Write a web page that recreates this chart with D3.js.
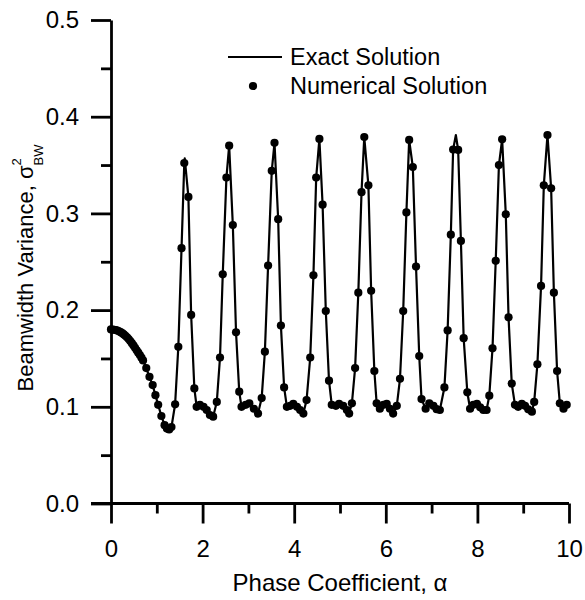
<!DOCTYPE html>
<html><head><meta charset="utf-8">
<script src="https://cdn.jsdelivr.net/npm/d3@7"></script>
<style>
body{margin:0;background:#fff}
text{font-family:"Liberation Sans",Arial,Helvetica,sans-serif;fill:#000}
</style>
</head><body>
<svg id="chart" width="585" height="600"></svg>
<script>
// Numerical solution samples (alpha, sigma^2_BW)
const alphaNum = [0.000,0.035,0.070,0.105,0.140,0.175,0.210,0.245,0.280,0.315,0.350,0.385,0.420,0.455,0.490,0.525,0.560,0.595,0.630,0.665,0.700,
0.77,0.84,0.91,0.97,1.03,1.10,1.17,1.22,1.27,1.32,
1.40,1.47,1.54,1.60,1.69,1.75,1.82,1.87,1.94,2.02,2.09,2.16,2.23,2.31,2.38,2.44,2.52,2.58,2.66,2.73,2.80,2.85,2.94,3.02,
3.12,3.21,3.29,3.36,3.43,3.51,3.57,3.65,3.71,3.78,3.84,3.91,3.98,4.06,4.13,4.20,4.27,4.35,4.42,4.48,4.55,4.62,4.69,4.76,
4.82,4.91,4.98,5.07,5.15,5.20,5.26,5.33,5.40,5.47,5.53,5.62,5.68,5.75,5.80,5.87,5.95,6.02,6.09,6.16,6.24,6.31,6.38,6.45,
6.51,6.59,6.66,6.73,6.78,6.87,6.95,7.04,7.11,7.18,7.28,7.35,7.42,7.47,7.58,7.64,7.70,7.78,7.84,7.91,7.99,8.06,8.13,8.20,
8.26,8.33,8.40,8.47,8.54,8.62,8.68,8.75,8.82,8.89,8.97,9.04,9.11,9.19,9.24,9.31,9.39,9.45,9.53,9.61,9.67,9.74,9.80,9.88,9.95];
const sigmaNum = [0.1800,0.1799,0.1797,0.1793,0.1788,0.1781,0.1772,0.1761,0.1748,0.1734,0.1718,0.1700,0.1680,0.1658,0.1635,0.1610,0.1585,0.1560,0.1535,0.1508,0.1480,
0.1400,0.1310,0.1225,0.1120,0.1020,0.0905,0.0810,0.0775,0.0765,0.0790,
0.1026,0.162,0.264,0.352,0.317,0.195,0.119,0.100,0.102,0.100,0.0967,0.0915,0.0898,0.105,0.151,0.237,0.337,0.370,0.288,0.177,0.1156,0.100,0.102,0.1036,
0.098,0.093,0.109,0.157,0.246,0.344,0.373,0.294,0.184,0.120,0.100,0.101,0.103,0.100,0.0967,0.093,0.107,0.151,0.236,0.337,0.377,0.309,0.199,0.127,
0.102,0.101,0.103,0.101,0.0967,0.093,0.1036,0.140,0.218,0.322,0.379,0.329,0.220,0.137,0.1036,0.098,0.102,0.103,0.098,0.093,0.101,0.129,0.199,0.301,
0.376,0.348,0.245,0.1525,0.108,0.098,0.1036,0.101,0.0975,0.0967,0.120,0.179,0.278,0.366,0.3656,0.2715,0.171,0.115,0.098,0.102,0.103,0.0995,0.0967,0.0967,
0.1115,0.1605,0.251,0.350,0.3766,0.299,0.1925,0.124,0.102,0.100,0.103,0.101,0.0974,0.095,0.105,0.144,0.225,0.329,0.381,0.326,0.218,0.137,0.1036,0.098,0.102];
// Extra vertices where the exact curve rises above the sampled points
const exactPeakAlpha = [1.61, 7.53];
const exactPeakSigma = [0.357, 0.381];

const xMajorTicks = [0,2,4,6,8,10];
const xMinorTicks = [1,3,5,7,9];
const yMajorTicks = [0.0,0.1,0.2,0.3,0.4,0.5];
const yMinorTicks = [0.05,0.15,0.25,0.35,0.45];
const legendLabels = ["Exact Solution","Numerical Solution"];

const svg = d3.select("#chart");
const x = d3.scaleLinear().domain([0,10]).range([111,569]);
const y = d3.scaleLinear().domain([0,0.5]).range([503.5,20]);

const numPts = alphaNum.map((a,i)=>({a, s:sigmaNum[i]}));
const exactPts = numPts.concat(exactPeakAlpha.map((a,i)=>({a, s:exactPeakSigma[i]})))
  .sort((p,q)=>p.a-q.a);

// axes
const tickFs = 24;
function styleAxis(g){
  g.selectAll("path.domain").attr("stroke","#000").attr("stroke-width",2.8);
  g.selectAll(".tick line").attr("stroke","#000").attr("stroke-width",2.8);
  g.selectAll("text").attr("font-size",tickFs).attr("font-family",'"Liberation Sans",Arial,sans-serif').attr("fill","#000");
}
const gyMinor = svg.append("g").attr("transform","translate(111,0)")
  .call(d3.axisLeft(y).tickValues(yMinorTicks).tickSize(10).tickFormat(""));
gyMinor.select("path.domain").remove();
styleAxis(gyMinor);
const gy = svg.append("g").attr("transform","translate(111,0)")
  .call(d3.axisLeft(y).tickValues(yMajorTicks).tickSize(20).tickSizeOuter(0).tickPadding(12).tickFormat(d3.format(".1f")));
styleAxis(gy);

const gxMinor = svg.append("g").attr("transform","translate(0,503.5)")
  .call(d3.axisBottom(x).tickValues(xMinorTicks).tickSize(10).tickFormat(""));
gxMinor.select("path.domain").remove();
styleAxis(gxMinor);
const gx = svg.append("g").attr("transform","translate(0,503.5)")
  .call(d3.axisBottom(x).tickValues(xMajorTicks).tickSize(20).tickSizeOuter(0).tickPadding(16).tickFormat(d3.format("d")));
styleAxis(gx);
gx.select("path.domain").attr("d", `M${111-20},0H${x(10)}`);

// exact curve
svg.append("path").datum(exactPts)
  .attr("fill","none").attr("stroke","#000").attr("stroke-width",2.2).attr("stroke-linejoin","round")
  .attr("d", d3.line().x(d=>x(d.a)).y(d=>y(d.s)));
// numerical dots
svg.append("g").selectAll("circle").data(numPts).join("circle")
  .attr("cx",d=>x(d.a)).attr("cy",d=>y(d.s)).attr("r",4.1).attr("fill","#000");

// axis titles
svg.append("text").attr("x",340).attr("y",591).attr("text-anchor","middle").attr("font-size",24)
  .text("Phase Coefficient, α");
const yt = svg.append("text").attr("transform","translate(33,268) rotate(-90)")
  .attr("text-anchor","middle").attr("font-size",22);
yt.append("tspan").text("Beamwidth Variance, σ");
yt.append("tspan").attr("font-size",13).attr("dy",-12).text("2");
yt.append("tspan").attr("font-size",13).attr("dx",-7.2).attr("dy",22).text("BW");

// legend
const lg = svg.append("g");
lg.append("line").attr("x1",228).attr("x2",282).attr("y1",57).attr("y2",57)
  .attr("stroke","#000").attr("stroke-width",2.2);
lg.append("text").attr("x",290).attr("y",64.5).attr("font-size",23.5).text(legendLabels[0]);
lg.append("circle").attr("cx",253).attr("cy",86).attr("r",4.1).attr("fill","#000");
lg.append("text").attr("x",290).attr("y",93.5).attr("font-size",23.5).text(legendLabels[1]);
</script>
</body></html>
